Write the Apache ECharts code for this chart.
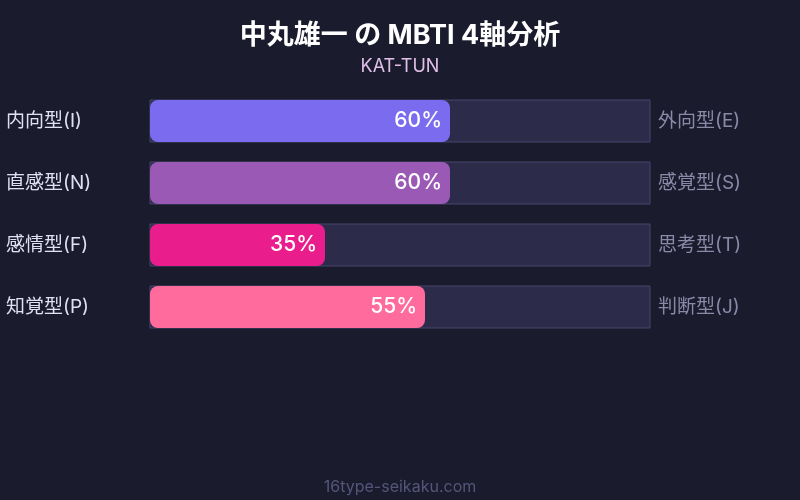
<!DOCTYPE html>
<html><head><meta charset="utf-8">
<script src="https://cdn.jsdelivr.net/npm/echarts@6/dist/echarts.min.js"></script>
<style>html,body{margin:0;padding:0;background:#1b1b2e;}#c{width:800px;height:500px;}</style>
</head><body><div id="c"></div>
<script>
const leftLabels = ['内向型(I)', '直感型(N)', '感情型(F)', '知覚型(P)'];
const rightLabels = ['外向型(E)', '感覚型(S)', '思考型(T)', '判断型(J)'];
const values = [60, 60, 35, 55];
const colors = ['#7b6bee', '#9b59b6', '#e91e8c', '#ff6b9d'];
const FONT = 'Inter, "Noto Sans CJK JP", sans-serif';

const chart = echarts.init(document.getElementById('c'));
chart.setOption({
  backgroundColor: '#1b1b2e',
  title: [{
    text: '中丸雄一 の MBTI 4軸分析',
    subtext: 'KAT-TUN',
    left: 'center', top: 17,
    itemGap: 9,
    textStyle: {color: '#ffffff', fontSize: 27, fontWeight: 'bold', fontFamily: FONT},
    subtextStyle: {color: '#e0c0e8', fontSize: 18, fontFamily: FONT}
  }, {
    text: '16type-seikaku.com',
    left: 'center', top: 474,
    textStyle: {color: '#55557a', fontSize: 16, fontWeight: 'normal', fontFamily: FONT}
  }],
  grid: {left: 150, right: 150, top: 90, height: 248},
  xAxis: {type: 'value', min: 0, max: 100, show: false},
  yAxis: [{
    type: 'category', data: leftLabels, inverse: true,
    axisLine: {show: false}, axisTick: {show: false},
    axisLabel: {color: '#e0e0f0', fontSize: 19, fontFamily: FONT, align: 'left', margin: 144}
  }, {
    type: 'category', data: rightLabels, inverse: true, position: 'right',
    axisLine: {show: false}, axisTick: {show: false},
    axisLabel: {color: '#8a8aa8', fontSize: 19, fontFamily: FONT, align: 'left', margin: 8}
  }],
  series: [{
    type: 'bar', barWidth: 42,
    data: values.map((v, i) => ({value: v, itemStyle: {color: colors[i]}})),
    itemStyle: {borderRadius: 8},
    showBackground: true,
    backgroundStyle: {color: '#2d2b4a', borderColor: '#46446a', borderWidth: 1},
    label: {
      show: true, position: 'insideRight', distance: 8,
      formatter: '{c}%', color: '#ffffff', fontSize: 21, fontWeight: 500, fontFamily: FONT
    }
  }]
});
</script></body></html>
